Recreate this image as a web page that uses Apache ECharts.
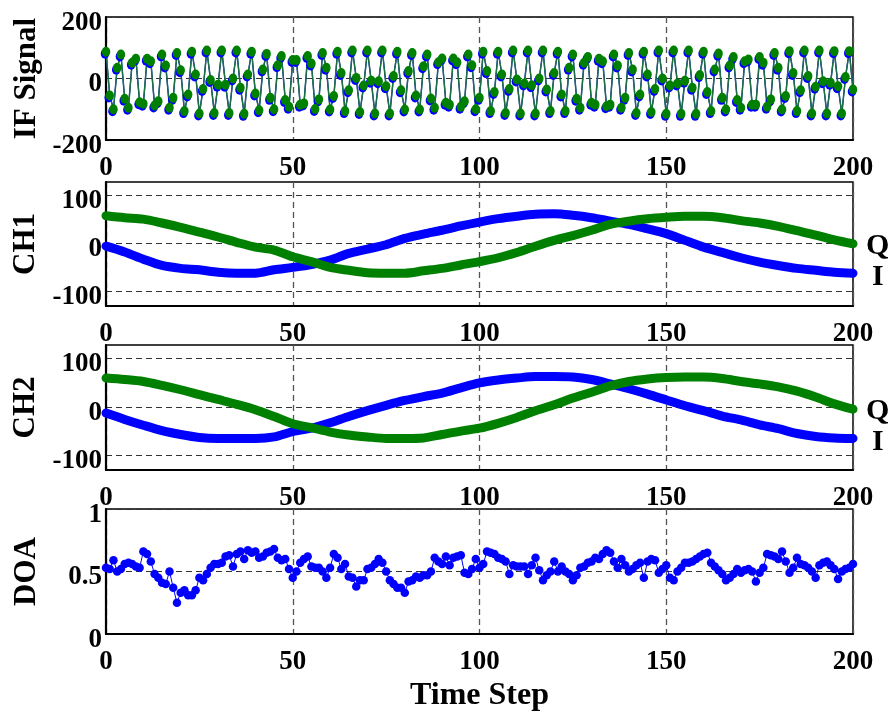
<!DOCTYPE html>
<html>
<head>
<meta charset="utf-8">
<title>IF Signal / CH1 / CH2 / DOA</title>
<script src="https://cdn.jsdelivr.net/npm/echarts@6/dist/echarts.min.js"></script>
<style>
  html, body { margin: 0; padding: 0; background: #fff; }
  #chart { width: 890px; height: 713px; }
</style>
</head>
<body>
<div id="chart"></div>
<script>
// Time axis ticks shared by all four panels
const timeTicks = [0, 50, 100, 150, 200];

// IF signal, one sample per time step (0..200)
const ifSignal = [
  87, -55, -100, 35, 78, -66, -95, 51, 64, -77,
  -82, 64, 56, -88, -74, 78, 42, -95, -63, 83,
  27, -106, -52, 87, 13, -114, -34, 91, -5, -112,
  -20, 91, -20, -112, 0, 91, -30, -115, 13, 87,
  -49, -103, 29, 80, -63, -100, 43, 73, -70, -92,
  60, 60, -85, -81, 73, 49, -99, -68, 83, 35,
  -101, -57, 87, 18, -106, -38, 91, 2, -109, -23,
  91, -7, -114, -9, 91, -25, -114, 8, 87, -38,
  -101, 24, 83, -55, -101, 40, 78, -65, -95, 53,
  65, -79, -85, 65, 53, -92, -74, 78, 43, -100,
  -63, 87, 24, -106, -44, 87, 13, -112, -34, 91,
  -3, -114, -16, 91, -22, -114, 0, 91, -36, -106,
  18, 87, -52, -106, 35, 78, -66, -95, 51, 70,
  -79, -85, 64, 56, -90, -85, 78, 42, -95, -63,
  83, 29, -112, -52, 87, 13, -109, -34, 91, 0,
  -115, -23, 91, -16, -115, -7, 91, -30, -115, 11,
  87, -44, -106, 29, 81, -63, -101, 42, 70, -70,
  -95, 56, 62, -85, -85, 70, 51, -92, -68, 83,
  35, -101, -57, 89, 18, -106, -38, 91, 8, -114,
  -27, 91, -9, -114, -14, 89, -25, -114, 5, 89,
  -36
];

// Channel I/Q traces, sampled every 5 time steps
const chSteps = [
  0, 5, 10, 15, 20, 25, 30, 35, 40, 45,
  50, 55, 60, 65, 70, 75, 80, 85, 90, 95,
  100, 105, 110, 115, 120, 125, 130, 135, 140, 145,
  150, 155, 160, 165, 170, 175, 180, 185, 190, 195,
  200
];
const ch1I = [
  -6, -18, -33, -46, -52, -55, -60, -62, -62, -55,
  -50, -44, -35, -21, -12, -3, 10, 19, 27, 36,
  44, 51, 56, 60, 61, 58, 53, 46, 39, 30,
  20, 6, -8, -19, -30, -39, -46, -52, -56, -60,
  -62
];
const ch1Q = [
  57, 53, 50, 42, 33, 23, 13, 2, -8, -14,
  -28, -38, -50, -56, -61, -62, -62, -57, -52, -45,
  -38, -30, -19, -6, 6, 16, 27, 39, 46, 51,
  54, 56, 56, 53, 47, 42, 35, 26, 17, 7,
  -1
];
const ch2I = [
  -13, -26, -38, -49, -57, -63, -65, -65, -65, -62,
  -51, -44, -33, -20, -8, 3, 13, 21, 28, 39,
  49, 55, 59, 62, 62, 61, 56, 47, 37, 26,
  14, 2, -8, -19, -27, -37, -45, -55, -61, -64,
  -65
];
const ch2Q = [
  59, 56, 52, 44, 35, 25, 15, 5, -6, -20,
  -35, -43, -52, -58, -62, -65, -65, -64, -57, -50,
  -44, -34, -22, -8, 4, 18, 30, 43, 52, 57,
  60, 61, 61, 58, 52, 47, 41, 32, 20, 6,
  -5
];

// Direction-of-arrival estimate, one value per time step
const doa = [
  0.53, 0.52, 0.59, 0.50, 0.52, 0.56, 0.57, 0.56, 0.54, 0.53,
  0.66, 0.64, 0.58, 0.48, 0.45, 0.41, 0.40, 0.50, 0.37, 0.25,
  0.33, 0.35, 0.31, 0.31, 0.35, 0.45, 0.43, 0.48, 0.53, 0.56,
  0.56, 0.57, 0.62, 0.63, 0.54, 0.64, 0.66, 0.60, 0.67, 0.65,
  0.66, 0.61, 0.62, 0.65, 0.66, 0.68, 0.61, 0.59, 0.60, 0.52,
  0.45, 0.50, 0.57, 0.60, 0.62, 0.54, 0.53, 0.53, 0.50, 0.45,
  0.53, 0.64, 0.61, 0.52, 0.56, 0.46, 0.45, 0.38, 0.43, 0.43,
  0.52, 0.53, 0.56, 0.60, 0.57, 0.50, 0.43, 0.40, 0.37, 0.37,
  0.33, 0.42, 0.43, 0.46, 0.45, 0.47, 0.47, 0.50, 0.61, 0.58,
  0.56, 0.62, 0.55, 0.61, 0.62, 0.63, 0.49, 0.48, 0.52, 0.60,
  0.53, 0.56, 0.66, 0.65, 0.64, 0.61, 0.60, 0.58, 0.48, 0.55,
  0.54, 0.54, 0.54, 0.48, 0.55, 0.61, 0.51, 0.43, 0.47, 0.50,
  0.58, 0.50, 0.54, 0.50, 0.48, 0.43, 0.47, 0.53, 0.54, 0.57,
  0.58, 0.61, 0.60, 0.64, 0.67, 0.65, 0.58, 0.53, 0.60, 0.55,
  0.50, 0.52, 0.55, 0.57, 0.45, 0.58, 0.60, 0.59, 0.49, 0.52,
  0.55, 0.45, 0.43, 0.50, 0.53, 0.57, 0.57, 0.58, 0.60, 0.62,
  0.64, 0.65, 0.57, 0.54, 0.51, 0.48, 0.43, 0.45, 0.48, 0.52,
  0.49, 0.51, 0.52, 0.50, 0.42, 0.49, 0.53, 0.64, 0.63, 0.62,
  0.60, 0.66, 0.58, 0.49, 0.53, 0.61, 0.56, 0.55, 0.53, 0.50,
  0.45, 0.55, 0.57, 0.58, 0.55, 0.52, 0.44, 0.50, 0.52, 0.53,
  0.56
];

// Panel titles and y tick values
const panelNames = ['IF Signal', 'CH1', 'CH2', 'DOA'];
const ifTicks = [-200, 0, 200];
const chTicks = [-100, 0, 100];
const doaTicks = [0, 0.5, 1];
const xTitle = 'Time Step';

const FONT = '"Liberation Serif", "Times New Roman", serif';
const BLUE = '#0000ff';
const GREEN = '#008000';

const pair = (xs, ys) => xs.map((x, i) => [x, ys[i]]);
const perStep = ys => ys.map((y, i) => [i, y]);

const grids = [
  { left: 106, right: 37, top: 17, height: 123 },
  { left: 106, right: 37, top: 182, height: 124 },
  { left: 106, right: 37, top: 345, height: 125 },
  { left: 106, right: 37, top: 509, height: 126 }
].map(g => Object.assign({ show: true, borderColor: '#000', borderWidth: 1.5, backgroundColor: '#fff' }, g));

const tickText = { fontFamily: FONT, fontWeight: 'bold', fontSize: 27, color: '#000' };
const titleText = { fontFamily: FONT, fontWeight: 'bold', fontSize: 31, color: '#000' };

const xAxes = grids.map((g, i) => ({
  type: 'value', gridIndex: i, min: 0, max: 200, interval: 50,
  axisLine: { show: true, onZero: false, lineStyle: { color: '#000', width: 2 } },
  axisTick: { show: false },
  axisLabel: Object.assign({ margin: 15, customValues: timeTicks }, tickText),
  splitLine: { show: true, lineStyle: { color: '#555', width: 1.3, type: [6, 4] } },
  name: i === 3 ? xTitle : '',
  nameLocation: 'middle', nameGap: 46, nameMoveOverlap: false,
  nameTextStyle: Object.assign({}, titleText, { fontSize: 32 })
}));

function yAxis(i, min, max, ticks, gap) {
  return {
    type: 'value', gridIndex: i, min: min, max: max,
    axisLine: { show: true, onZero: false, lineStyle: { color: '#000', width: 2.2 } },
    axisTick: { show: false, customValues: ticks },
    axisLabel: Object.assign({ margin: 4, customValues: ticks, verticalAlign: 'top', lineHeight: 12 }, tickText),
    splitLine: { show: true, lineStyle: { color: '#333', width: 1.2, type: [6, 4] } },
    name: panelNames[i], nameLocation: 'middle', nameGap: gap, nameMoveOverlap: false,
    nameTextStyle: titleText
  };
}

const yAxes = [
  yAxis(0, -200, 200, ifTicks, 64),
  yAxis(1, -130, 127, chTicks, 65),
  yAxis(2, -130, 127, chTicks, 65),
  yAxis(3, 0, 1, doaTicks, 64)
];

function chPair(gi, iVals, qVals) {
  const endText = { show: true, fontFamily: FONT, fontWeight: 'bold', fontSize: 30, color: '#000' };
  return [
    {
      type: 'line', xAxisIndex: gi, yAxisIndex: gi, data: pair(chSteps, iVals),
      smooth: 0.3, showSymbol: false, lineStyle: { color: BLUE, width: 9, cap: 'round', join: 'round' },
      endLabel: Object.assign({ formatter: 'I', distance: 19, offset: [0, 4] }, endText)
    },
    {
      type: 'line', xAxisIndex: gi, yAxisIndex: gi, data: pair(chSteps, qVals),
      smooth: 0.3, showSymbol: false, lineStyle: { color: GREEN, width: 9, cap: 'round', join: 'round' },
      endLabel: Object.assign({ formatter: 'Q', distance: 13, offset: [0, 2] }, endText)
    }
  ];
}

const option = {
  animation: false,
  backgroundColor: '#fff',
  grid: grids,
  xAxis: xAxes,
  yAxis: yAxes,
  series: [
    {
      type: 'line', xAxisIndex: 0, yAxisIndex: 0, data: perStep(ifSignal),
      symbol: 'circle', symbolSize: [8.5, 10], symbolOffset: [-1, 2],
      itemStyle: { color: BLUE }, lineStyle: { color: BLUE, width: 1.2 }
    },
    {
      type: 'line', xAxisIndex: 0, yAxisIndex: 0, data: perStep(ifSignal),
      symbol: 'circle', symbolSize: [8.5, 10],
      itemStyle: { color: GREEN }, lineStyle: { color: '#1d6e45', width: 1.5 }
    },
    ...chPair(1, ch1I, ch1Q),
    ...chPair(2, ch2I, ch2Q),
    {
      type: 'line', xAxisIndex: 3, yAxisIndex: 3, data: perStep(doa),
      symbol: 'circle', symbolSize: 8.5,
      itemStyle: { color: BLUE }, lineStyle: { color: BLUE, width: 1 }
    }
  ]
};

const chart = echarts.init(document.getElementById('chart'), null, { renderer: 'canvas' });
chart.setOption(option);
</script>
</body>
</html>
